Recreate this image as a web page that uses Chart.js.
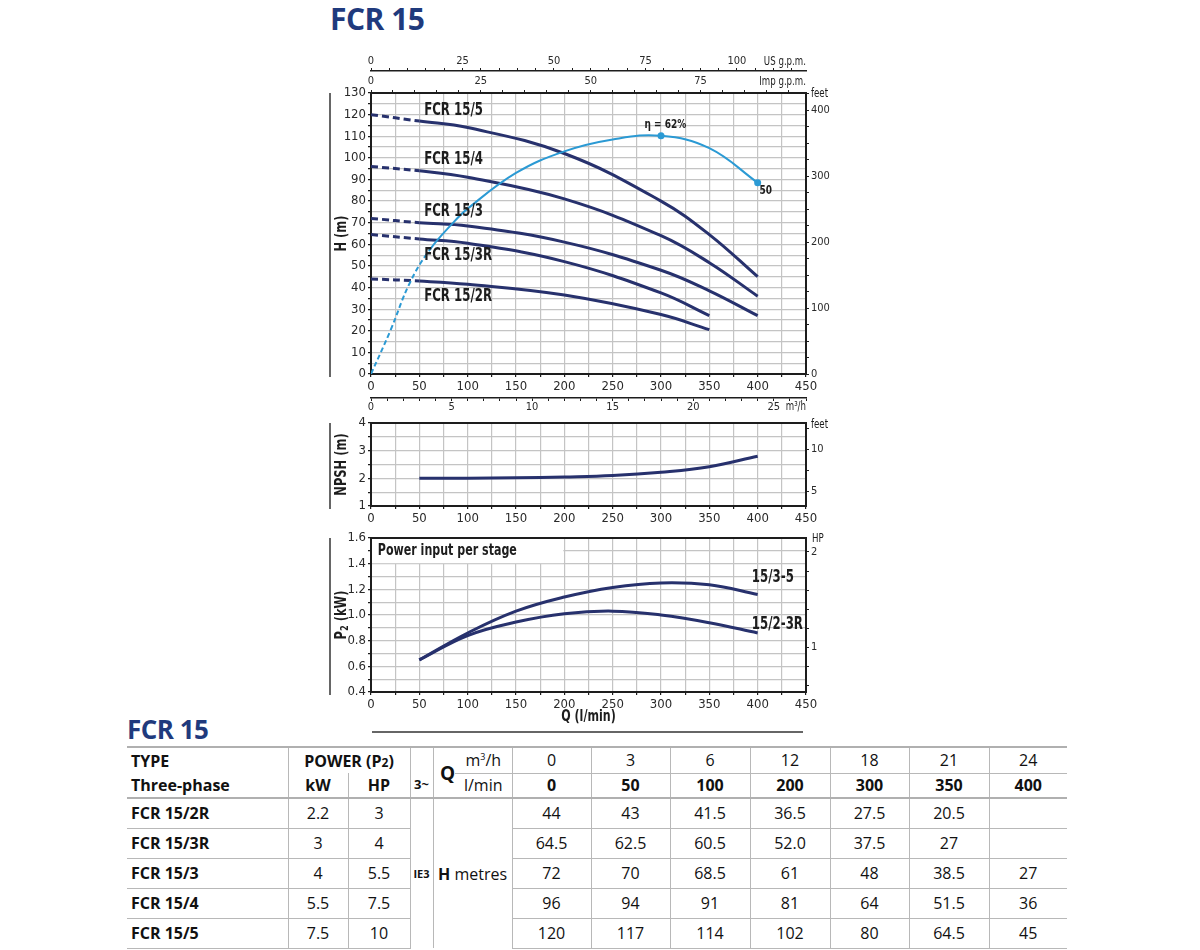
<!DOCTYPE html>
<html>
<head>
<meta charset="utf-8">
<title>FCR 15</title>
<script src="https://cdn.jsdelivr.net/npm/chart.js@4.4.1/dist/chart.umd.min.js"></script>
<style>
  body { margin: 0; width: 1200px; height: 950px; position: relative; overflow: hidden; background: #fff; font-family: "Open Sans", sans-serif; color: #111; }
  canvas { position: absolute; }
  .ttl { position: absolute; color: #1f3a7d; font-weight: 700; line-height: 1; letter-spacing: -0.5px; }
  #tbl { position: absolute; left: 127px; top: 746px; border-collapse: collapse; table-layout: fixed; font-size: 16px; border-top: 2px solid #b0b0b0; }
  #tbl td { padding: 0; text-align: center; vertical-align: middle; border: 0 solid #b8b8b8; white-space: nowrap; }
  #tbl td.r { border-right-width: 1px; }
  #tbl td.bt { border-bottom-width: 1px; }
  #tbl td.B { border-bottom: 2px solid #b0b0b0; }
  #tbl td.lft { text-align: left; padding-left: 4px; }
  #tbl td.bo { font-weight: 700; }
</style>
</head>
<body>
<div class="ttl" style="left:330px;top:4px;font-size:30px">FCR 15</div>
<canvas id="headChart" width="560" height="369" style="left:300px;top:49px"></canvas>
<canvas id="npshChart" width="560" height="116" style="left:300px;top:410px"></canvas>
<canvas id="powerChart" width="560" height="215" style="left:300px;top:525px"></canvas>
<div class="ttl" style="left:127px;top:716px;font-size:26px">FCR 15</div>
<table id="tbl"></table>
<script>
// performance table (also used for the head curves)
const qM3h = [0, 3, 6, 12, 18, 21, 24];
const qLmin = [0, 50, 100, 200, 300, 350, 400];
const pumpTypes = ['FCR 15/2R', 'FCR 15/3R', 'FCR 15/3', 'FCR 15/4', 'FCR 15/5'];
const powerKw = ['2.2', '3', '4', '5.5', '7.5'];
const powerHp = ['3', '4', '5.5', '7.5', '10'];
const head152R = ['44', '43', '41.5', '36.5', '27.5', '20.5', ''];
const head153R = ['64.5', '62.5', '60.5', '52.0', '37.5', '27', ''];
const head153 = ['72', '70', '68.5', '61', '48', '38.5', '27'];
const head154 = ['96', '94', '91', '81', '64', '51.5', '36'];
const head155 = ['120', '117', '114', '102', '80', '64.5', '45'];

// efficiency curve, drawn on the head scale (l/min, m)
const effQ = [0, 20, 40, 60, 85, 100, 150, 200, 250, 300, 350, 400];
const effH = [0, 20, 42, 57, 70, 76.5, 93, 103, 108.5, 110.2, 104.5, 88.5];

// NPSH (m)
const npshQ = [50, 100, 150, 200, 250, 300, 350, 400];
const npshM = [2.0, 2.0, 2.02, 2.05, 2.1, 2.22, 2.42, 2.8];

// power input per stage (kW)
const powerQ = [50, 100, 150, 200, 250, 300, 350, 400];
const p2Stage35 = [0.65, 0.86, 1.03, 1.14, 1.215, 1.25, 1.235, 1.16];
const p2Stage23R = [0.65, 0.84, 0.945, 1.01, 1.03, 1.0, 0.94, 0.86];

const CF = '"Liberation Sans Narrow", "DejaVu Sans Condensed", "Roboto Condensed", Roboto, sans-serif';
const NAVY = '#27316d';
const SKY = '#2b9ad4';
const GRID = '#c4c4c4';
const INK = '#1d1d1d';
const SQ = 0.77; // squeeze for the condensed lettering
const LPM_USG = 3.78541, LPM_IMPG = 4.54609, LPM_M3H = 1000 / 60, M_FT = 0.3048, KW_HP = 0.7457;

function axis(o) {
  const horiz = o.pos === 'top' || o.pos === 'bottom';
  return {
    type: 'linear', position: o.pos, min: o.min, max: o.max, weight: o.weight || 0,
    ticks: {
      stepSize: o.step, autoSkip: false, maxRotation: 0, includeBounds: false,
      padding: o.pad === undefined ? 2 : o.pad, color: '#2a2a2a', font: { family: CF, size: o.size || 13 },
      callback: v => { const k = v / o.every; return Math.abs(k - Math.round(k)) < 1e-6 ? v.toFixed(o.dec || 0) : ''; }
    },
    grid: { drawOnChartArea: !!o.area, color: o.area ? GRID : INK, lineWidth: o.area ? 1.2 : 1, tickLength: 3, tickColor: INK },
    border: { color: INK, width: o.bw || 2 },
    afterFit: s => { if (horiz) s.height = o.fit; else s.width = o.fit; }
  };
}

function pts(xs, ys) {
  return xs.map((x, i) => ({ x: x, y: ys[i] === '' ? null : Number(ys[i]) })).filter(p => p.y !== null);
}

const framePlugin = {
  id: 'frame',
  beforeDatasetsDraw(chart) {
    const { ctx, chartArea: a } = chart;
    ctx.save();
    ctx.strokeStyle = INK; ctx.lineWidth = 2;
    ctx.strokeRect(a.left, a.top, a.right - a.left, a.bottom - a.top);
    ctx.restore();
  }
};

function sideTitle(chart, parts) {
  const { ctx, chartArea: a } = chart;
  ctx.save();
  ctx.strokeStyle = '#333'; ctx.lineWidth = 1.5;
  ctx.beginPath(); ctx.moveTo(a.left - 41, a.top); ctx.lineTo(a.left - 41, a.bottom + 3); ctx.stroke();
  ctx.translate(a.left - 29, (a.top + a.bottom) / 2);
  ctx.rotate(-Math.PI / 2);
  ctx.scale(0.85, 1);
  ctx.fillStyle = INK; ctx.textBaseline = 'middle'; ctx.textAlign = 'left';
  let w = 0;
  parts.forEach(p => { ctx.font = 'bold ' + p[1] + 'px ' + CF; w += ctx.measureText(p[0]).width; });
  let x = -w / 2;
  parts.forEach(p => {
    ctx.font = 'bold ' + p[1] + 'px ' + CF;
    ctx.fillText(p[0], x, p[2] || 0);
    x += ctx.measureText(p[0]).width;
  });
  ctx.restore();
}

function text(ctx, t, x, y, font, align, sq) {
  ctx.save();
  ctx.translate(x, y);
  ctx.scale(sq || 1, 1);
  ctx.font = font; ctx.textAlign = align || 'left'; ctx.textBaseline = 'middle';
  ctx.fillStyle = INK; ctx.fillText(t, 0, 0);
  ctx.restore();
}

const headDecor = {
  id: 'headDecor',
  afterDatasetsDraw(chart) {
    const { ctx, chartArea: a } = chart;
    const sx = chart.scales.x, sy = chart.scales.y;
    [['FCR 15/5', 55, 121.8], ['FCR 15/4', 55, 99], ['FCR 15/3', 55, 75], ['FCR 15/3R', 55, 54.6], ['FCR 15/2R', 55, 35.6]]
      .forEach(l => text(ctx, l[0], sx.getPixelForValue(l[1]), sy.getPixelForValue(l[2]), 'bold 17px ' + CF, 'left', SQ));
    text(ctx, 'η = 62%', sx.getPixelForValue(283), sy.getPixelForValue(115.3), 'bold 13px ' + CF, 'left', SQ);
    text(ctx, '50', sx.getPixelForValue(402), sy.getPixelForValue(85), 'bold 13px ' + CF, 'left', SQ);
    text(ctx, 'US g.p.m.', a.right, chart.scales.us.bottom - 9, '12px ' + CF, 'right', 0.8);
    text(ctx, 'Imp g.p.m.', a.right, chart.scales.imp.bottom - 11, '12px ' + CF, 'right', 0.8);
    text(ctx, 'm³/h', a.right, chart.scales.m3h.top + 9, '12px ' + CF, 'right', 0.8);
    text(ctx, 'feet', a.right + 5, a.top + 1, '12px ' + CF, 'left', 0.8);
    sideTitle(chart, [['H (m)', 15]]);
  }
};

const npshDecor = {
  id: 'npshDecor',
  afterDatasetsDraw(chart) {
    const { ctx, chartArea: a } = chart;
    text(ctx, 'feet', a.right + 5, a.top + 2, '12px ' + CF, 'left', 0.8);
    sideTitle(chart, [['NPSH (m)', 15]]);
  }
};

const powerDecor = {
  id: 'powerDecor',
  beforeDatasetsDraw(chart) {
    const { ctx, chartArea: a } = chart;
    const sx = chart.scales.x, sy = chart.scales.y;
    ctx.save();
    ctx.fillStyle = '#fff';
    ctx.fillRect(a.left + 1, a.top + 1, sx.getPixelForValue(200) - a.left - 2, sy.getPixelForValue(1.4) - a.top - 1.5);
    ctx.restore();
    text(ctx, 'Power input per stage', sx.getPixelForValue(7), sy.getPixelForValue(1.5), 'bold 16px ' + CF, 'left', SQ);
  },
  afterDatasetsDraw(chart) {
    const { ctx, chartArea: a } = chart;
    const sx = chart.scales.x, sy = chart.scales.y;
    text(ctx, '15/3-5', sx.getPixelForValue(394), sy.getPixelForValue(1.29), 'bold 17px ' + CF, 'left', SQ);
    text(ctx, '15/2-3R', sx.getPixelForValue(394), sy.getPixelForValue(0.923), 'bold 17px ' + CF, 'left', SQ);
    text(ctx, 'HP', a.right + 6, a.top + 1, '12px ' + CF, 'left', 0.8);
    text(ctx, 'Q (l/min)', (a.left + a.right) / 2, a.bottom + 25, 'bold 15px ' + CF, 'center', 0.82);
    ctx.save();
    ctx.strokeStyle = '#333'; ctx.lineWidth = 1.5;
    ctx.beginPath(); ctx.moveTo(a.left + 1, a.bottom + 40); ctx.lineTo(a.right - 3, a.bottom + 40); ctx.stroke();
    ctx.restore();
    sideTitle(chart, [['P', 15], ['2', 11, 3], [' (kW)', 15]]);
  }
};

const common = {
  responsive: false, animation: false, events: [],
  plugins: { legend: { display: false }, tooltip: { enabled: false } }
};

function curve(data, color, width, dashUntil, xs, dash) {
  return {
    data: data, borderColor: color, borderWidth: width, pointRadius: 0, fill: false,
    tension: 0.4, xAxisID: 'x', yAxisID: 'y',
    segment: { borderDash: c => (xs && xs[c.p0DataIndex] < dashUntil ? (dash || [7, 4]) : undefined) }
  };
}

function setup() {
  const pumpSeries = [head152R, head153R, head153, head154, head155];
  const headSets = pumpSeries.map(s => curve(pts(qLmin, s), NAVY, 3, 50, qLmin));
  const eff = curve(pts(effQ, effH), SKY, 2, 60, effQ, [5, 3]);
  eff.pointRadius = effQ.map(q => (q === 300 || q === 400 ? 3.5 : 0));
  eff.pointBackgroundColor = SKY;
  eff.pointBorderWidth = 0;

  new Chart(document.getElementById('headChart'), {
    type: 'line',
    data: { datasets: [eff].concat(headSets) },
    options: Object.assign({}, common, {
      layout: { padding: 0 },
      scales: {
        x: axis({ pos: 'bottom', min: 0, max: 450, step: 25, every: 50, area: true, fit: 24 }),
        m3h: axis({ pos: 'bottom', min: 0, max: 450 / LPM_M3H, step: 1, every: 5, size: 11, pad: 0, fit: 20, bw: 1.5, weight: 1 }),
        imp: axis({ pos: 'top', min: 0, max: 450 / LPM_IMPG, step: 5, every: 25, size: 11, fit: 22 }),
        us: axis({ pos: 'top', min: 0, max: 450 / LPM_USG, step: 5, every: 25, size: 11, pad: 0, fit: 22, bw: 1.5, weight: 1 }),
        y: axis({ pos: 'left', min: 0, max: 130, step: 5, every: 10, area: true, fit: 71 }),
        feet: axis({ pos: 'right', min: 0, max: 130 / M_FT, step: 25, every: 100, size: 11, fit: 54 })
      }
    }),
    plugins: [framePlugin, headDecor]
  });

  new Chart(document.getElementById('npshChart'), {
    type: 'line',
    data: { datasets: [curve(pts(npshQ, npshM), NAVY, 3)] },
    options: Object.assign({}, common, {
      layout: { padding: { top: 13 } },
      scales: {
        x: axis({ pos: 'bottom', min: 0, max: 450, step: 25, every: 50, area: true, fit: 20 }),
        y: axis({ pos: 'left', min: 1, max: 4, step: 0.5, every: 1, area: true, fit: 71 }),
        feet: axis({ pos: 'right', min: 1 / M_FT, max: 4 / M_FT, step: 2.5, every: 5, size: 11, fit: 54 })
      }
    }),
    plugins: [framePlugin, npshDecor]
  });

  new Chart(document.getElementById('powerChart'), {
    type: 'line',
    data: { datasets: [curve(pts(powerQ, p2Stage35), NAVY, 3), curve(pts(powerQ, p2Stage23R), NAVY, 3)] },
    options: Object.assign({}, common, {
      layout: { padding: { top: 13 } },
      scales: {
        x: axis({ pos: 'bottom', min: 0, max: 450, step: 25, every: 50, area: true, fit: 48 }),
        y: axis({ pos: 'left', min: 0.4, max: 1.6, step: 0.1, every: 0.2, dec: 1, area: true, fit: 71 }),
        hp: axis({ pos: 'right', min: 0.4 / KW_HP, max: 1.6 / KW_HP, step: 0.2, every: 1, size: 11, fit: 54 })
      }
    }),
    plugins: [powerDecor, framePlugin]
  });

  buildTable();
}

function buildTable() {
  const widths = [161, 60, 62, 23, 22, 57, 79, 79, 80, 80, 79, 80, 78];
  const last = qLmin.length - 1;
  const rc = i => (i < last ? 'r ' : '');
  let h = '<colgroup>' + widths.map(w => '<col style="width:' + w + 'px">').join('') + '</colgroup>';
  h += '<tr style="height:26px"><td class="r lft bo">TYPE</td>'
    + '<td class="r bo" colspan="2">POWER (P<span style="font-size:12px">2</span>)</td>'
    + '<td class="r B bo" rowspan="2" style="vertical-align:bottom;padding-bottom:4px;font-size:13px">3~</td>'
    + '<td class="B bo" rowspan="2" style="font-size:19px;text-align:right">Q</td>'
    + '<td class="r bt">m<sup style="font-size:9px">3</sup>/h</td>'
    + qM3h.map((q, i) => '<td class="' + rc(i) + 'bt">' + q + '</td>').join('') + '</tr>';
  h += '<tr style="height:25px"><td class="r B lft bo">Three-phase</td><td class="r B bo">kW</td><td class="r B bo">HP</td>'
    + '<td class="r B">l/min</td>'
    + qLmin.map((q, i) => '<td class="' + rc(i) + 'B bo">' + q + '</td>').join('') + '</tr>';
  const series = [head152R, head153R, head153, head154, head155];
  pumpTypes.forEach((t, k) => {
    h += '<tr style="height:30px"><td class="r bt lft bo">' + t + '</td>'
      + '<td class="r bt">' + powerKw[k] + '</td><td class="r bt">' + powerHp[k] + '</td>';
    if (k === 0) {
      h += '<td class="r bo" rowspan="5" style="font-size:11px">IE3</td>'
        + '<td class="r" rowspan="5" colspan="2"><b>H</b> metres</td>';
    }
    h += series[k].map((v, i) => '<td class="' + rc(i) + 'bt">' + v + '</td>').join('') + '</tr>';
  });
  document.getElementById('tbl').innerHTML = h;
}

window.addEventListener('load', setup);
</script>
</body>
</html>
